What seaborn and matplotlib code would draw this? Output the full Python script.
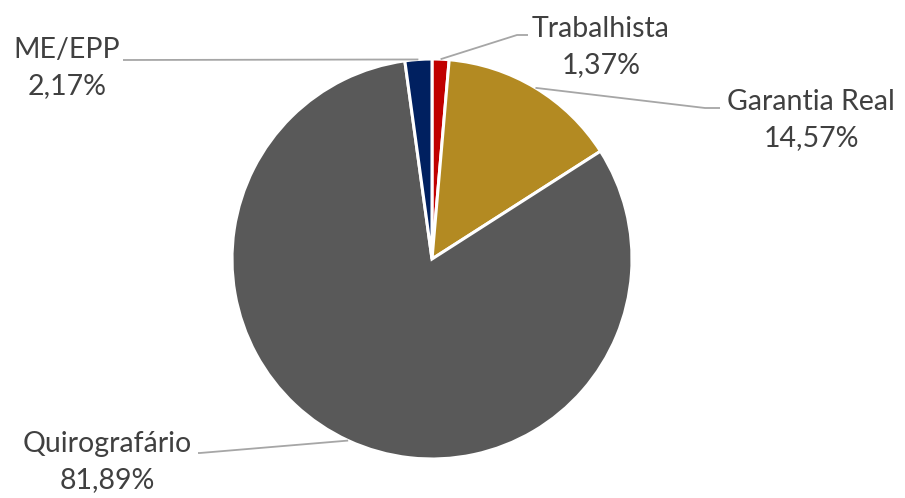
import matplotlib
matplotlib.use("Agg")
import matplotlib.pyplot as plt
import seaborn as sns
import numpy as np

categories = ["Trabalhista", "Garantia Real", "Quirografário", "ME/EPP"]
values = [1.37, 14.57, 81.89, 2.17]
pct_labels = ["1,37%", "14,57%", "81,89%", "2,17%"]
colors = ["#C00000", "#B38A22", "#595959", "#002060"]

sns.set_theme(style="white")
plt.rcParams['font.family'] = ['Lato', 'DejaVu Sans']

W, H = 905, 498
fig = plt.figure(figsize=(W / 100, H / 100), dpi=100)
ax = fig.add_axes([0, 0, 1, 1])

cx, cy, R = 432, H - 259, 200
wedges, _ = ax.pie(values, colors=colors, startangle=90, counterclock=False,
                   center=(cx, cy), radius=R, frame=True,
                   wedgeprops=dict(edgecolor="white", linewidth=2.2))
ax.set_xlim(0, W)
ax.set_ylim(0, H)
ax.set_aspect("equal")
ax.axis("off")

# label layout: (elbow point, end point, text center) in pixel coords (y from top)
layout = [
    ((517, 35), (528, 35), (601, 47)),
    ((705, 108), (720, 108), (811, 120)),
    ((200, 453), (198, 453), (107, 462)),
    ((125, 60), (123, 60), (67, 68)),
]
line_color = "#A6A6A6"
text_color = "#404040"
for w, (elbow, end, tc), cat, pl in zip(wedges, layout, categories, pct_labels):
    mid = np.deg2rad((w.theta1 + w.theta2) / 2)
    sx, sy = cx + R * np.cos(mid), cy + R * np.sin(mid)
    ax.plot([sx, elbow[0], end[0]], [sy, H - elbow[1], H - end[1]],
            color=line_color, lw=1.3, solid_capstyle="butt", zorder=1)
    ax.text(tc[0], H - tc[1], f"{cat}\n{pl}", ha="center", va="center",
            fontsize=20.5, color=text_color, linespacing=1.45)

fig.savefig("out.png", dpi=100)
